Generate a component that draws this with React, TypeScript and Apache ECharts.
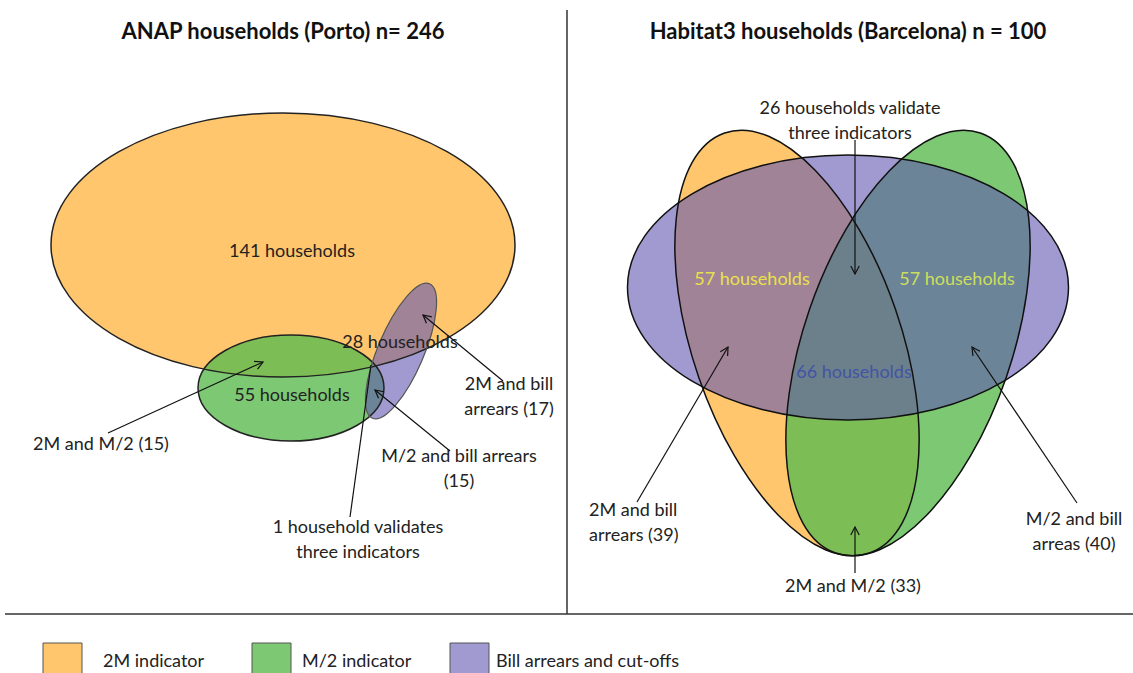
import React, { useEffect, useRef } from "react";
import * as echarts from "echarts";

// ---------- data ----------
const setNames = ["2M indicator", "M/2 indicator", "Bill arrears and cut-offs"];
const setFills = ["#FFC66E", "rgba(92,186,80,0.8)", "rgba(97,87,177,0.6)"];
const legendFills = ["#FFC66E", "#7DC873", "#A09AD0"];

const panelTitles = ["ANAP households (Porto) n= 246", "Habitat3 households (Barcelona) n = 100"];

// ellipses: [cx, cy, rx, ry, rotationDeg, setIndex, strokeColor]
const portoEllipses: [number, number, number, number, number, number, string][] = [
  [283, 245, 232, 132, 0, 0, "#222"],
  [291, 388, 93, 53, 0, 1, "#222"],
  [401, 351, 23, 73, -23, 2, "#555"],
];
const barcelonaEllipses: [number, number, number, number, number, number, string][] = [
  [797, 343, 104, 222, 19, 0, "#111"],
  [908, 343, 104, 222, -19, 1, "#111"],
  [848, 287.5, 220.5, 132.5, 0, 2, "#111"],
];

// region counts
const portoCounts = { onlyTwoM: 141, onlyMHalf: 55, onlyBill: 28, twoMMHalf: 15, twoMBill: 17, mHalfBill: 15, all: 1 };
const bcnCounts = { left: 57, right: 57, center: 66, twoMMHalf: 33, twoMBill: 39, mHalfBill: 40, all: 26 };

// labels: [text, x, y, color, align]
const labels: [string, number, number, string, string][] = [
  [`${portoCounts.onlyTwoM} households`, 292, 250, "#222", "center"],
  [`${portoCounts.onlyMHalf} households`, 292, 394, "#222", "center"],
  [`${portoCounts.onlyBill} households`, 400, 341, "#222", "center"],
  [`2M and M/2 (${portoCounts.twoMMHalf})`, 101, 443, "#222", "center"],
  [`2M and bill\narrears (${portoCounts.twoMBill})`, 509, 395, "#222", "center"],
  [`M/2 and bill arrears\n(${portoCounts.mHalfBill})`, 459, 467, "#222", "center"],
  [`${portoCounts.all} household validates\nthree indicators`, 358, 538, "#222", "center"],
  [`${bcnCounts.all} households validate\nthree indicators`, 850, 119, "#222", "center"],
  [`${bcnCounts.left} households`, 752, 278, "#E8E24A", "center"],
  [`${bcnCounts.right} households`, 957, 278, "#CCDF5C", "center"],
  [`${bcnCounts.center} households`, 854, 371, "#4353A6", "center"],
  [`2M and bill\narrears (${bcnCounts.twoMBill})`, 589, 521, "#222", "left"],
  [`M/2 and bill\narreas (${bcnCounts.mHalfBill})`, 1074, 530, "#222", "center"],
  [`2M and M/2 (${bcnCounts.twoMMHalf})`, 853, 585, "#222", "center"],
];

// arrows: [x1, y1, x2, y2, head]
const arrows: [number, number, number, number, number][] = [
  [108, 433, 263, 362, 1],
  [503, 381, 423, 315, 1],
  [450, 451, 375, 390, 1],
  [350, 517, 371, 365, 0],
  [855, 140, 855, 274, 1],
  [637, 502, 728, 347, 1],
  [1077, 503, 972, 347, 1],
  [855, 573, 855, 527, 1],
];

const FONT = "Lato, 'Open Sans', sans-serif";

export default function App() {
  const ref = useRef<HTMLDivElement>(null);
  useEffect(() => {
    document.body.style.margin = "0";
    const chart = echarts.init(ref.current!, undefined, { renderer: "svg" });
    const allEllipses = [...portoEllipses, ...barcelonaEllipses];

    const graphics: any[] = [];
    panelTitles.forEach((t, i) => {
      graphics.push({
        type: "text",
        z: 100,
        x: i === 0 ? 283 : 848,
        y: 30,
        style: { text: t, fill: "#111", font: `bold 22px ${FONT}`, align: "center", verticalAlign: "middle" },
      });
    });
    labels.forEach(([t, x, y, c, a]) => {
      graphics.push({
        type: "text",
        z: 100,
        x,
        y,
        style: { text: t, fill: c, font: `18px ${FONT}`, align: a, verticalAlign: "middle", lineHeight: 25 },
      });
    });
    graphics.push({ type: "line", z: 100, shape: { x1: 567, y1: 10, x2: 567, y2: 614 }, style: { stroke: "#333", lineWidth: 1.5 } });
    graphics.push({ type: "line", z: 100, shape: { x1: 5, y1: 614, x2: 1133, y2: 614 }, style: { stroke: "#333", lineWidth: 1.5 } });
    const legendBoxX = [43, 252, 450];
    const legendTextX = [103, 302, 496];
    setNames.forEach((n, i) => {
      graphics.push({
        type: "rect",
        z: 100,
        shape: { x: legendBoxX[i], y: 643, width: 39, height: 34 },
        style: { fill: legendFills[i], stroke: "#555", lineWidth: 1 },
      });
      graphics.push({
        type: "text",
        z: 100,
        x: legendTextX[i],
        y: 660,
        style: { text: n, fill: "#222", font: `18px ${FONT}`, align: "left", verticalAlign: "middle" },
      });
    });

    const ellipseSeries = (fillPass: boolean, z: number) => ({
      type: "custom",
      clip: false,
      silent: true,
      z,
      data: allEllipses.map((e, i) => [e[0], e[1], i]),
      renderItem: (params: any, api: any) => {
        const e = allEllipses[api.value(2)];
        const p = api.coord([e[0], e[1]]);
        const s = api.size([e[2], e[3]]);
        return {
          type: "ellipse",
          x: p[0],
          y: p[1],
          rotation: (e[4] * Math.PI) / 180,
          shape: { cx: 0, cy: 0, rx: s[0], ry: s[1] },
          style: fillPass
            ? { fill: setFills[e[5]], stroke: "none" }
            : { fill: "none", stroke: e[6], lineWidth: e[5] === 2 && e[0] < 567 ? 1.2 : 1.5 },
        };
      },
    });

    chart.setOption({
      animation: false,
      grid: { left: 0, right: 0, top: 0, bottom: 0 },
      xAxis: { type: "value", min: 0, max: 1133, show: false },
      yAxis: { type: "value", min: 0, max: 673, inverse: true, show: false },
      graphic: graphics,
      series: [
        ellipseSeries(true, 2),
        ellipseSeries(false, 3),
        {
          type: "custom",
          clip: false,
          silent: true,
          z: 5,
          data: arrows.map((a, i) => [a[0], a[1], i]),
          renderItem: (params: any, api: any) => {
            const a = arrows[api.value(2)];
            const t = api.coord([a[0], a[1]]);
            const h = api.coord([a[2], a[3]]);
            const dx = h[0] - t[0];
            const dy = h[1] - t[1];
            const len = Math.sqrt(dx * dx + dy * dy);
            const ux = dx / len;
            const uy = dy / len;
            const L = 9;
            const ang = (28 * Math.PI) / 180;
            const rot = (x: number, y: number, th: number) => [x * Math.cos(th) - y * Math.sin(th), x * Math.sin(th) + y * Math.cos(th)];
            const r1 = rot(-ux, -uy, ang);
            const r2 = rot(-ux, -uy, -ang);
            const children: any[] = [
              { type: "line", shape: { x1: t[0], y1: t[1], x2: h[0], y2: h[1] }, style: { stroke: "#111", lineWidth: 1.2 } },
            ];
            if (a[4]) {
              children.push({
                type: "polyline",
                shape: { points: [[h[0] + r1[0] * L, h[1] + r1[1] * L], [h[0], h[1]], [h[0] + r2[0] * L, h[1] + r2[1] * L]] },
                style: { stroke: "#111", lineWidth: 1.2, fill: "none" },
              });
            }
            return { type: "group", children };
          },
        },
      ],
    });
    return () => chart.dispose();
  }, []);
  return <div ref={ref} style={{ width: 1133, height: 673 }} />;
}
